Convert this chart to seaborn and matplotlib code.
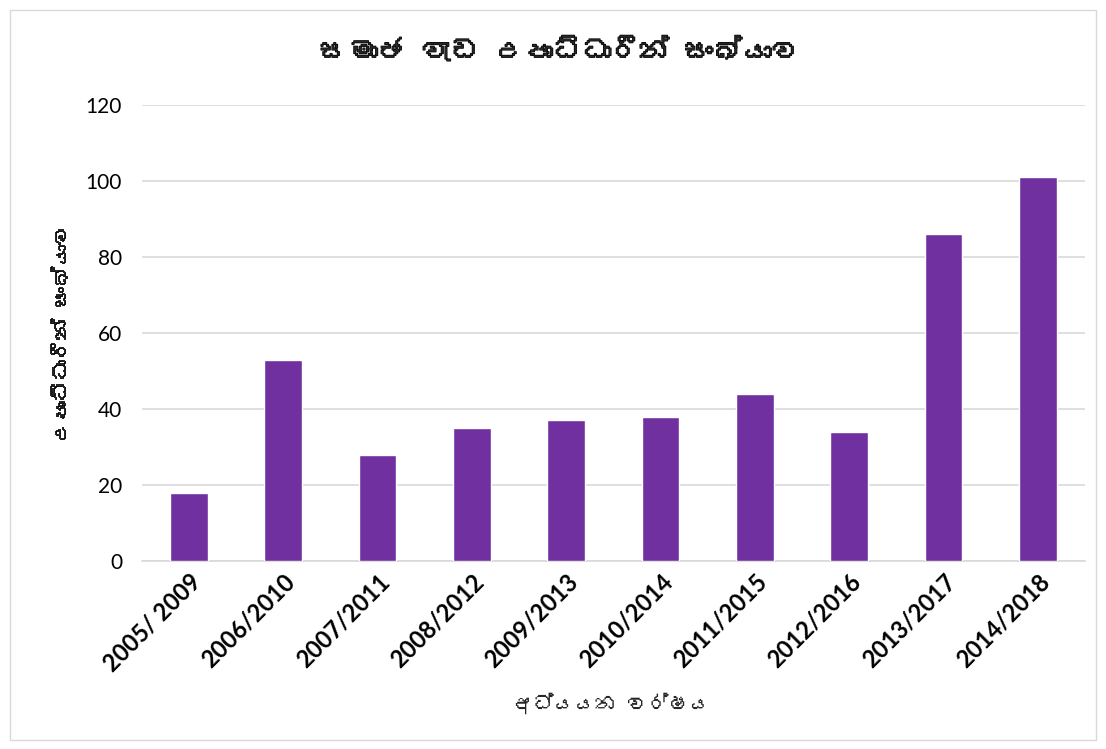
import matplotlib
matplotlib.use("Agg")
import matplotlib.pyplot as plt
import matplotlib.patheffects as pe
from matplotlib import font_manager
from matplotlib.ft2font import FT2Font
from matplotlib.patches import Rectangle
import pandas as pd
import seaborn as sns

years = ["2005/ 2009", "2006/2010", "2007/2011", "2008/2012", "2009/2013",
         "2010/2014", "2011/2015", "2012/2016", "2013/2017", "2014/2018"]
graduates = [18, 53, 28, 35, 37, 38, 44, 34, 86, 101]

# no joiner (U+200D): matplotlib draws it as a box
title = "සමාජ වැඩ උපාධිධාරීන් සංඛ්යාව"
ylabel = "උපාධිධාරීන් සංඛ්යාව"
xlabel = "අධ්යයන වර්ෂය"


def find_sinhala_family():
    for f in font_manager.fontManager.ttflist:
        try:
            if 0x0DC3 in FT2Font(f.fname).get_charmap():
                return f.name
        except Exception:
            pass
    return None


sns.set_style("white")
sinhala = find_sinhala_family()
base = ["Lato", "DejaVu Sans"]
plt.rcParams["font.family"] = base
text_family = ([sinhala] if sinhala else []) + base

df = pd.DataFrame({"year": years, "count": graduates})

fig = plt.figure(figsize=(11.06, 7.49), dpi=100)
ax = fig.add_axes([0.128, 0.251, 0.853, 0.609])
sns.barplot(data=df, x="year", y="count", color="#7030A0", width=0.4,
            saturation=1, ax=ax, zorder=3)

ax.set_ylim(0, 120)
ax.set_yticks(range(0, 121, 20))
ax.yaxis.grid(True, color="#d9d9d9", linewidth=1.2, zorder=0)
for s in ["top", "right", "left"]:
    ax.spines[s].set_visible(False)
ax.spines["bottom"].set_color("#d9d9d9")
ax.spines["bottom"].set_linewidth(1.2)
ax.tick_params(axis="both", length=0, colors="black")
ax.tick_params(axis="y", labelsize=15, pad=14)
ax.tick_params(axis="x", labelsize=17, pad=6)
ax.set_xlabel("")
ax.set_ylabel("")
for lab in ax.get_xticklabels():
    lab.set_rotation(45)
    lab.set_ha("right")
    lab.set_rotation_mode("anchor")
    lab.set_fontweight("bold")

# the sinhala font has no bold face, so thicken it with a stroke
fig.text(0.506, 0.931, title, ha="center", va="center", fontsize=21,
         fontweight="bold", family=text_family,
         path_effects=[pe.withStroke(linewidth=0.9, foreground="black")])
fig.text(0.056, 0.555, ylabel, ha="center", va="center", fontsize=15,
         fontweight="bold", rotation=90, family=text_family,
         path_effects=[pe.withStroke(linewidth=0.6, foreground="black")])
fig.text(0.553, 0.061, xlabel, ha="center", va="center", fontsize=15,
         family=text_family)

fig.patches.append(Rectangle((0.009, 0.012), 0.982, 0.975, transform=fig.transFigure,
                             fill=False, edgecolor="#d9d9d9", linewidth=1))

fig.savefig("out.png", dpi=100)
